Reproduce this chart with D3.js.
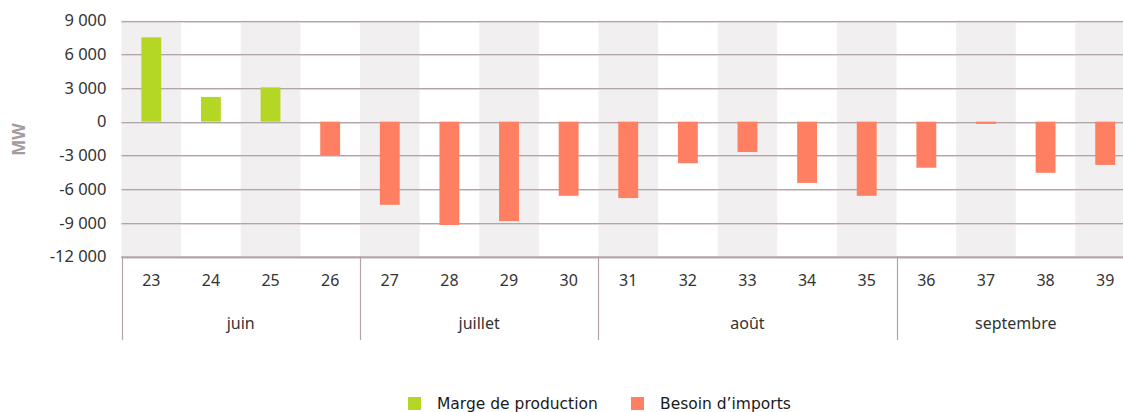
<!DOCTYPE html>
<html>
<head>
<meta charset="utf-8">
<script src="https://cdn.jsdelivr.net/npm/d3@7"></script>
<style>
    body { margin: 0; background: #fff; }
    svg { display: block; }
    svg text { font-family: "Noto Sans", sans-serif; }
</style>
</head>
<body>
<div id="chart"></div>
<script>
// weekly balance, summer months
let weeks = ["23", "24", "25", "26", "27", "28", "29", "30", "31", "32", "33", "34", "35", "36", "37", "38", "39"];
let months = ["juin", "juillet", "août", "septembre"];
let monthWeeks = [4, 4, 5, 4];
let marge = [7500, 2200, 3050, 0, 0, 0, 0, 0, 0, 0, 0, 0, 0, 0, 0, 0, 0];
let besoin = [0, 0, 0, -3000, -7400, -9200, -8850, -6600, -6800, -3700, -2700, -5450, -6600, -4100, -200, -4550, -3850];
let yTicks = [9000, 6000, 3000, 0, -3000, -6000, -9000, -12000];
let seriesNames = ["Marge de production", "Besoin d\u2019imports"];
let seriesColours = ["#b4d624", "#fe7f61"];

function graph(id) {
    let width = 1123, height = 412;
    let left = 121.5, right = 1135, top = 20.5, bottom = 256.5;
    let mainFont = "'Noto Sans', sans-serif";

    let svg = d3.select(id)
        .append("svg")
        .attr("width", width)
        .attr("height", height);

    let x = d3.scaleBand()
        .domain(weeks)
        .range([left, right])
        .padding(0);

    let y = d3.scaleLinear()
        .domain([-12000, 9000])
        .range([bottom, top]);

    let locale = d3.formatLocale({ decimal: ",", thousands: " ", grouping: [3], currency: ["", ""], minus: "-" });
    let fmt = locale.format(",d");

    // alternating background bands
    svg.append("g")
        .selectAll("rect")
        .data(weeks.filter((d, i) => i % 2 == 0))
        .enter()
        .append("rect")
        .attr("x", (d) => x(d))
        .attr("y", top)
        .attr("width", x.bandwidth())
        .attr("height", bottom - top)
        .attr("fill", "#f1eff0");

    // gridlines (dark line + soft shadow under it)
    let grid = svg.append("g");
    grid.selectAll("line.soft")
        .data(yTicks)
        .enter()
        .append("line")
        .attr("class", "soft")
        .attr("x1", left).attr("x2", width)
        .attr("y1", (d) => Math.round(y(d)) + 1.5)
        .attr("y2", (d) => Math.round(y(d)) + 1.5)
        .attr("stroke", "#ddd5d8")
        .attr("stroke-width", 1);
    grid.selectAll("line.main")
        .data(yTicks)
        .enter()
        .append("line")
        .attr("class", "main")
        .attr("x1", left).attr("x2", width)
        .attr("y1", (d) => Math.round(y(d)) + 0.5)
        .attr("y2", (d) => Math.round(y(d)) + 0.5)
        .attr("stroke", "#b2a5aa")
        .attr("stroke-width", 1.2);

    // y axis labels
    let yAxis = d3.axisLeft(y)
        .tickValues(yTicks)
        .tickFormat(fmt)
        .tickSize(0)
        .tickPadding(15);
    let gy = svg.append("g")
        .attr("transform", `translate(${left},0)`)
        .call(yAxis);
    gy.select(".domain").remove();
    gy.selectAll("text")
        .style("font-family", mainFont)
        .style("font-size", "16.5px")
        .attr("fill", "#333");

    svg.append("text")
        .attr("transform", `translate(25,${(top + bottom) / 2 + 1}) rotate(-90)`)
        .attr("text-anchor", "middle")
        .style("font-family", mainFont)
        .style("font-weight", "700")
        .style("font-size", "17px")
        .attr("fill", "#a69a9e")
        .text("MW");

    // bars
    let barW = x.bandwidth() / 3;
    let series = [marge, besoin];
    series.forEach((values, s) => {
        svg.append("g")
            .selectAll("rect")
            .data(values.map((v, i) => ({ week: weeks[i], v: v })).filter((d) => d.v != 0))
            .enter()
            .append("rect")
            .attr("x", (d) => x(d.week) + x.bandwidth() / 2 - barW / 2)
            .attr("width", barW)
            .attr("y", (d) => y(Math.max(0, d.v)))
            .attr("height", (d) => Math.abs(y(d.v) - y(0)))
            .attr("fill", seriesColours[s]);
    });

    // category axis: weeks then months
    let boxBottom = 340;
    let gx = svg.append("g")
        .attr("transform", `translate(0,${bottom})`)
        .call(d3.axisBottom(x).tickSize(0).tickPadding(18));
    gx.select(".domain").remove();
    gx.selectAll("text")
        .style("font-family", mainFont)
        .style("font-size", "16px")
        .attr("fill", "#333");

    svg.append("line")
        .attr("x1", left).attr("x2", width)
        .attr("y1", bottom + 0.5).attr("y2", bottom + 0.5)
        .attr("stroke", "#b2a5aa")
        .attr("stroke-width", 1.5);

    let start = 0;
    let edges = [0];
    monthWeeks.forEach((n) => { start += n; edges.push(start); });

    svg.append("g")
        .selectAll("line")
        .data(edges.slice(0, -1))
        .enter()
        .append("line")
        .attr("x1", (d) => Math.round(x(weeks[d])) + 0.5)
        .attr("x2", (d) => Math.round(x(weeks[d])) + 0.5)
        .attr("y1", bottom)
        .attr("y2", boxBottom)
        .attr("stroke", "#b2a5aa")
        .attr("stroke-width", 1.2);

    svg.append("g")
        .selectAll("text")
        .data(months)
        .enter()
        .append("text")
        .attr("x", (d, i) => {
            let a = x(weeks[edges[i]]);
            let b = Math.min(x(weeks[edges[i + 1] - 1]) + x.bandwidth(), 1135);
            return (a + b) / 2;
        })
        .attr("y", 329)
        .attr("text-anchor", "middle")
        .style("font-family", mainFont)
        .style("font-size", "16px")
        .attr("fill", "#333")
        .text((d) => d);

    // legend
    let legend = svg.append("g");
    let legendX = [408, 631];
    seriesNames.forEach((name, i) => {
        legend.append("rect")
            .attr("x", legendX[i])
            .attr("y", 397)
            .attr("width", 13)
            .attr("height", 13)
            .attr("fill", seriesColours[i]);
        legend.append("text")
            .attr("x", legendX[i] + 29)
            .attr("y", 408.5)
            .style("font-family", "'DejaVu Sans', sans-serif")
            .style("font-size", "15.5px")
            .attr("fill", "#1a1a1a")
            .text(name);
    });
}

graph("#chart");
</script>
</body>
</html>
